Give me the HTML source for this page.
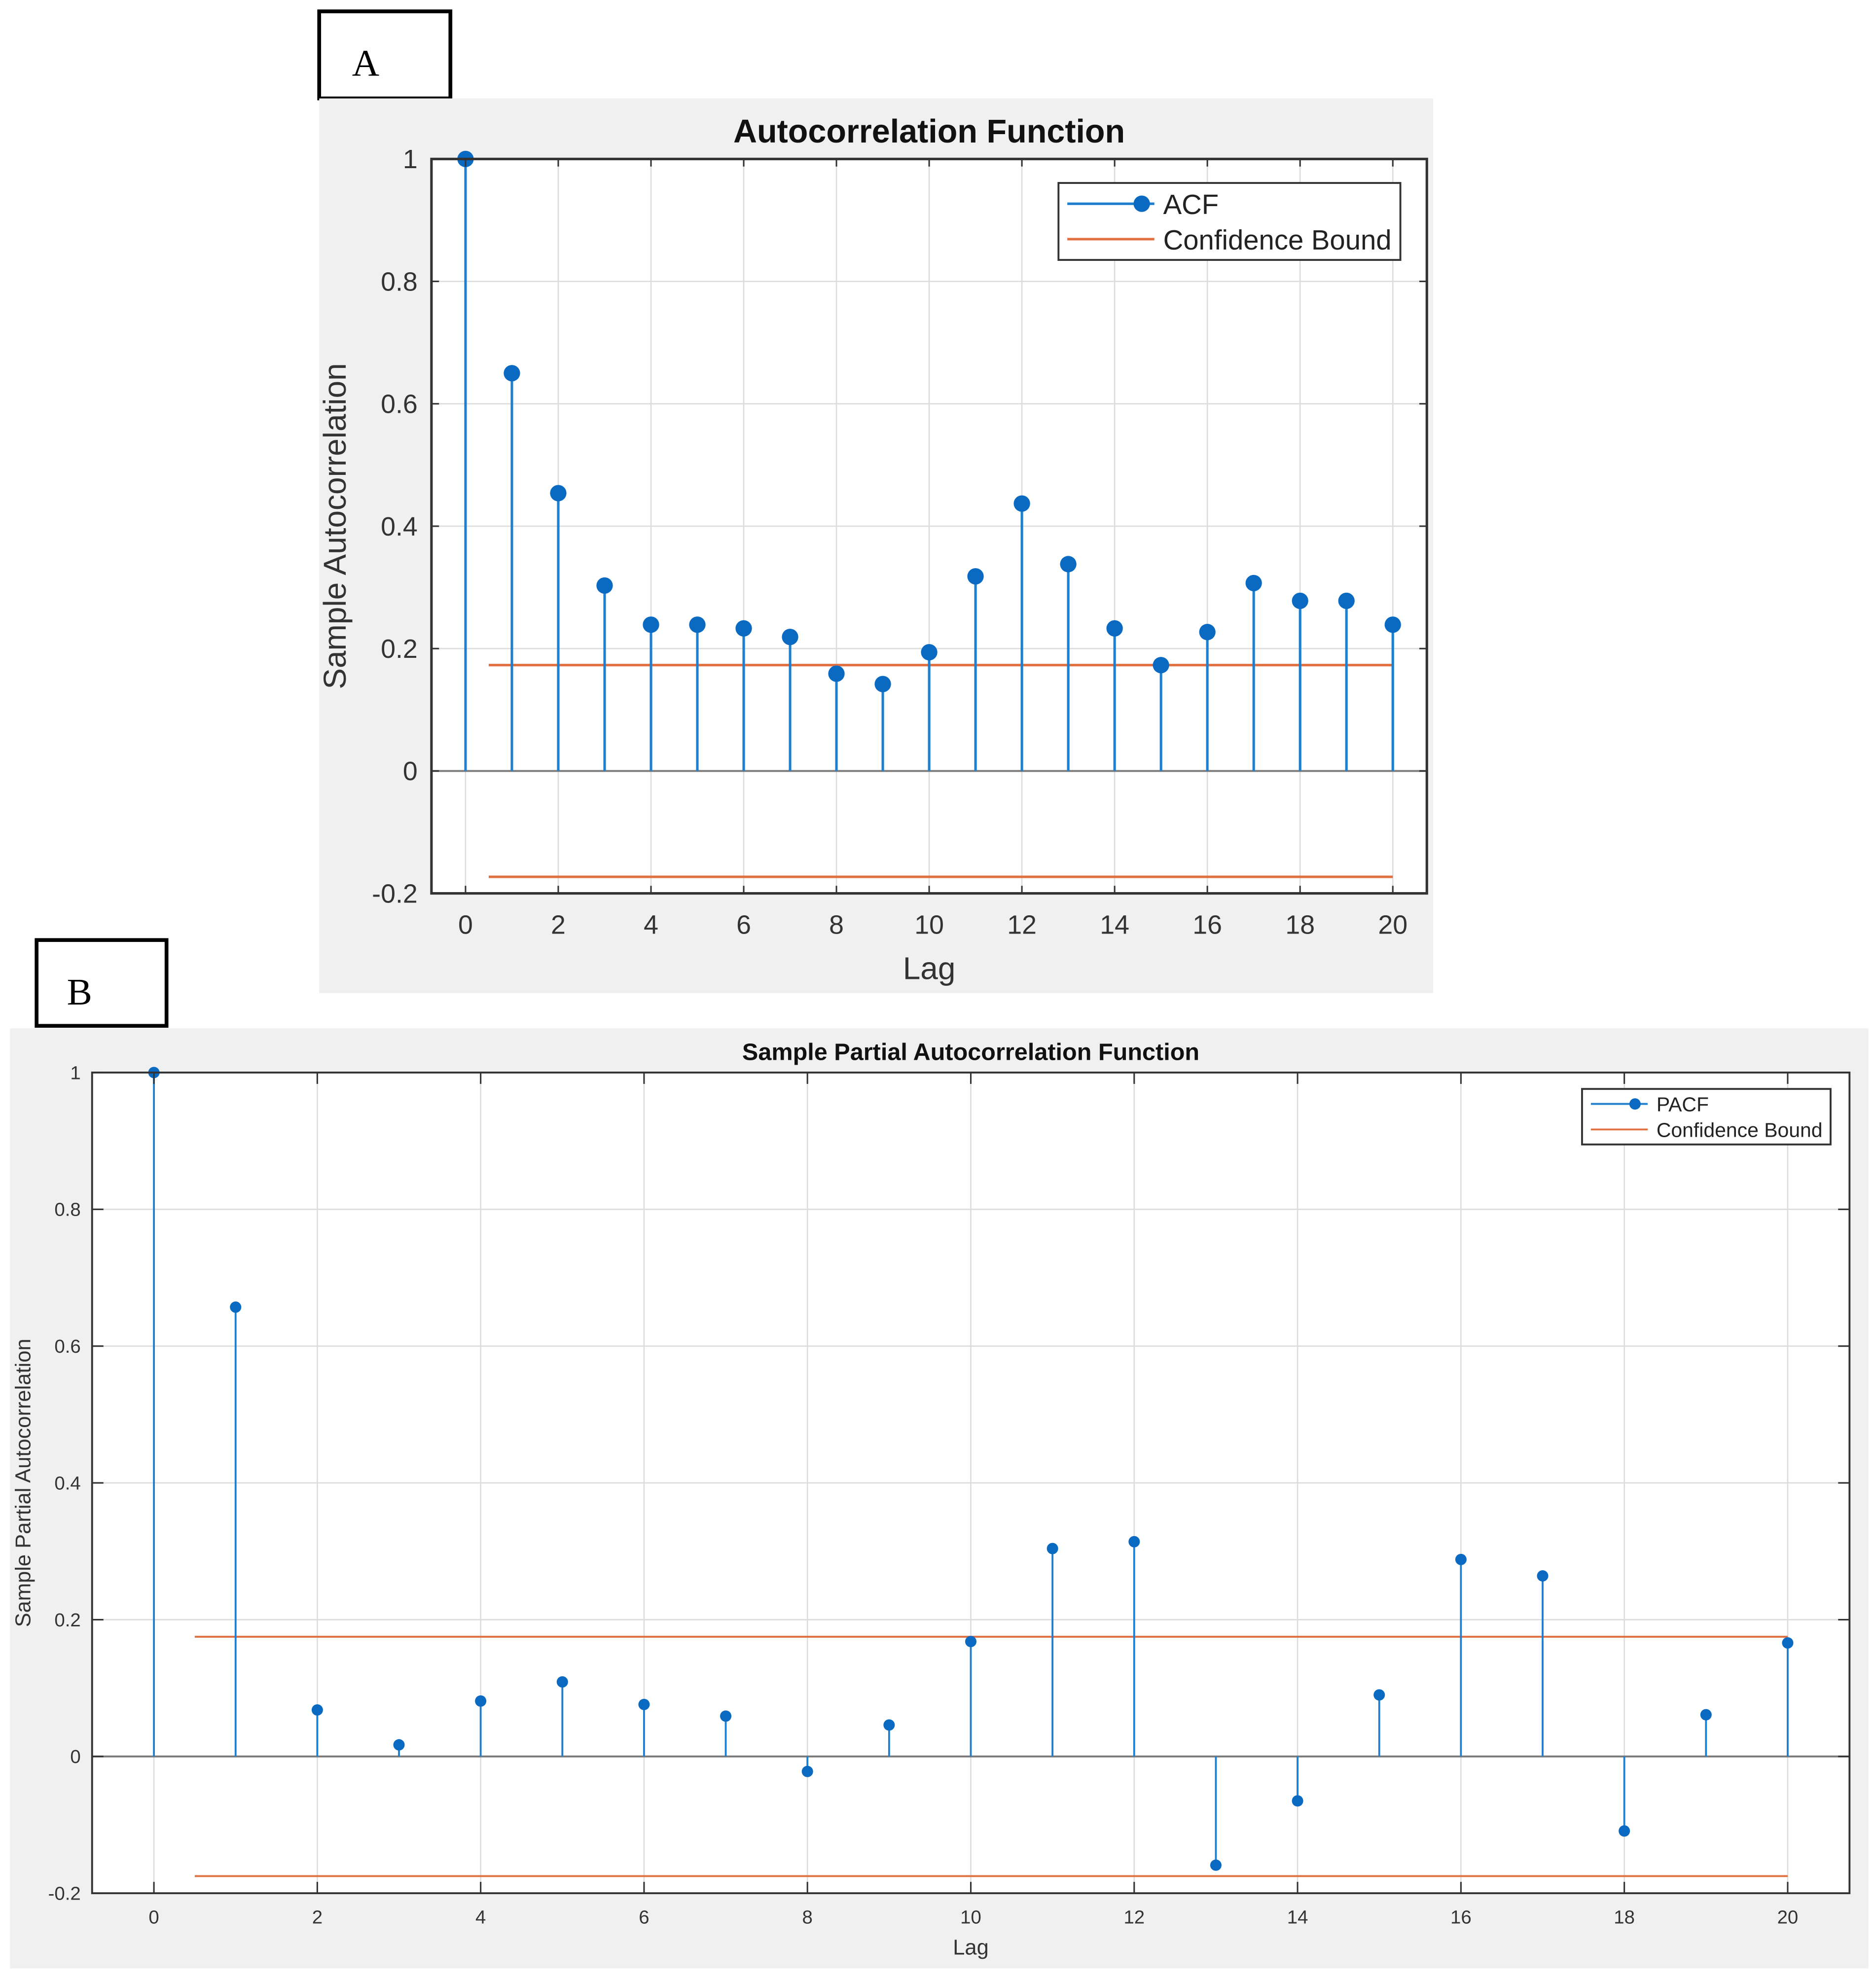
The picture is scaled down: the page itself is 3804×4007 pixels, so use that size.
<!DOCTYPE html>
<html><head><meta charset="utf-8"><style>
html,body{margin:0;padding:0;background:#fff;}
svg{display:block;}
text{font-family:"Liberation Sans",sans-serif;}
</style></head><body>
<svg id="root" width="3804" height="4007" viewBox="0 0 1487 1566" preserveAspectRatio="none" xmlns="http://www.w3.org/2000/svg">
<rect x="0" y="0" width="1487" height="1566" fill="#fff"/>
<g>
<rect x="253" y="9" width="104" height="69" fill="#fff" stroke="#000" stroke-width="3"/>
<text x="279" y="60" style="font-family:'Liberation Serif',serif" font-size="30">A</text>
</g>
<rect x="253" y="78" width="883" height="709" fill="#f0f0f0"/>
<g>
<rect x="29" y="745" width="103" height="68" fill="#fff" stroke="#000" stroke-width="3"/>
<text x="53" y="796" style="font-family:'Liberation Serif',serif" font-size="30">B</text>
</g>
<rect x="8" y="815" width="1473" height="745" fill="#f0f0f0"/>
<g id="chartA"></g>
<g id="chartB"></g>
</svg>
<script>
const lags = [0,1,2,3,4,5,6,7,8,9,10,11,12,13,14,15,16,17,18,19,20];
const acfValues = [1,0.65,0.454,0.303,0.239,0.239,0.233,0.219,0.159,0.142,0.194,0.318,0.437,0.338,0.233,0.173,0.227,0.307,0.278,0.278,0.239];
const acfBound = 0.173;
const pacfValues = [1,0.657,0.068,0.017,0.081,0.109,0.076,0.059,-0.022,0.046,0.168,0.304,0.314,-0.159,-0.065,0.09,0.288,0.264,-0.109,0.061,0.166];
const pacfBound = 0.175;
const xTicks = [0,2,4,6,8,10,12,14,16,18,20];
const yTicks = [-0.2,0,0.2,0.4,0.6,0.8,1];
const yTickLabels = ["-0.2","0","0.2","0.4","0.6","0.8","1"];

const NS = "http://www.w3.org/2000/svg";
function mk(parent, tag, attrs, txt){
  const e = document.createElementNS(NS, tag);
  for (const k in attrs) e.setAttribute(k, attrs[k]);
  if (txt !== undefined) e.textContent = txt;
  parent.appendChild(e);
  return e;
}

function drawChart(g, cfg, values, bound){
  const X = v => cfg.x0 + (v - 0) / 20 * (cfg.x20 - cfg.x0);
  const Y = v => cfg.yZero - v * (cfg.yZero - cfg.yOne);
  const L = cfg.left, R = cfg.right, T = Y(1), B = Y(-0.2);
  mk(g, 'rect', {x:L, y:T, width:R-L, height:B-T, fill:'#fff'});
  xTicks.forEach(t => {
    const l = mk(g, 'line', {x1:X(t), x2:X(t), y1:T, y2:B, stroke:'#dcdcdc', 'stroke-width':1});
    
    
  });
  yTicks.forEach(t => {
    const l = mk(g, 'line', {x1:L, x2:R, y1:Y(t), y2:Y(t), stroke:'#dcdcdc', 'stroke-width':1});
    
    
  });
  const z = mk(g, 'line', {x1:L, x2:R, y1:Y(0), y2:Y(0), stroke:'#7a7a7a', 'stroke-width':1.5});
  
  
  [bound, -bound].forEach(b => {
    const l = mk(g, 'line', {x1:X(0.5), x2:X(20), y1:Y(b), y2:Y(b), stroke:'#e07040', 'stroke-width':cfg.cbW});
    
    
  });
  lags.forEach((lag, i) => {
    const s = mk(g, 'line', {x1:X(lag), x2:X(lag), y1:Y(0), y2:Y(values[i]), stroke:'#1f7fcf', 'stroke-width':cfg.stemW});
    
    
    const c = mk(g, 'circle', {cx:X(lag), cy:Y(values[i]), r:cfg.dotR, fill:'#0a6ac2'});
    
    
  });
  mk(g, 'rect', {x:L, y:T, width:R-L, height:B-T, fill:'none', stroke:'#333', 'stroke-width':cfg.axW});
  const tl = cfg.tickLen;
  xTicks.forEach(t => {
    mk(g, 'line', {x1:X(t), x2:X(t), y1:B, y2:B-tl, stroke:'#333', 'stroke-width':1.2});
    mk(g, 'line', {x1:X(t), x2:X(t), y1:T, y2:T+tl, stroke:'#333', 'stroke-width':1.2});
    const tx = mk(g, 'text', {x:X(t), y:B + cfg.xLabOff, 'text-anchor':'middle', 'font-size':cfg.tickFs, fill:'#333'}, String(t));
    
    
  });
  yTicks.forEach((t, i) => {
    mk(g, 'line', {x1:L, x2:L+tl, y1:Y(t), y2:Y(t), stroke:'#333', 'stroke-width':1.2});
    mk(g, 'line', {x1:R, x2:R-tl, y1:Y(t), y2:Y(t), stroke:'#333', 'stroke-width':1.2});
    const tx = mk(g, 'text', {x:L - cfg.yLabOff, y:Y(t) + cfg.tickFs*0.35, 'text-anchor':'end', 'font-size':cfg.tickFs, fill:'#333'}, yTickLabels[i]);
    
    
  });
  const title = mk(g, 'text', {x:(L+R)/2, y:cfg.titleY, 'text-anchor':'middle', 'font-size':cfg.titleFs, 'font-weight':'bold', fill:'#111'}, cfg.title);
  
  
  const xl = mk(g, 'text', {x:(L+R)/2, y:cfg.xTitleY, 'text-anchor':'middle', 'font-size':cfg.labFs, fill:'#333'}, 'Lag');
  
  
  const yl = mk(g, 'text', {x:0, y:0, 'text-anchor':'middle', 'font-size':cfg.labFs, fill:'#333', transform:`translate(${cfg.yTitleX},${(T+B)/2}) rotate(-90)`}, cfg.yTitle);
  
  
  const lg = mk(g, 'g', {});
  
  
  const Lg = cfg.legend;
  mk(lg, 'rect', {x:Lg.x, y:Lg.y, width:Lg.w, height:Lg.h, fill:'#fff', stroke:'#333', 'stroke-width':1.5});
  const r1 = Lg.y + Lg.h*0.27, r2 = Lg.y + Lg.h*0.73;
  mk(lg, 'line', {x1:Lg.x+7, x2:Lg.x+Lg.lineW, y1:r1, y2:r1, stroke:'#1f7fcf', 'stroke-width':cfg.stemW});
  mk(lg, 'circle', {cx:Lg.x+Lg.lineW-10, cy:r1, r:cfg.dotR, fill:'#0a6ac2'});
  mk(lg, 'line', {x1:Lg.x+7, x2:Lg.x+Lg.lineW, y1:r2, y2:r2, stroke:'#e07040', 'stroke-width':cfg.cbW});
  const e1 = mk(lg, 'text', {x:Lg.x+Lg.lineW+7, y:r1+Lg.fs*0.37, 'font-size':Lg.fs, fill:'#222'}, cfg.series);
  
  
  const e2 = mk(lg, 'text', {x:Lg.x+Lg.lineW+7, y:r2+Lg.fs*0.37, 'font-size':Lg.fs, fill:'#222'}, 'Confidence Bound');
  
  
}

drawChart(document.getElementById('chartA'), {
  x0:369, x20:1104, yZero:611, yOne:126, left:342, right:1131,
  tickLen:6, tickFs:21, titleFs:26, labFs:25, titleY:113, xTitleY:776, yTitleX:274,
  xLabOff:32, yLabOff:11, title:'Autocorrelation Function', yTitle:'Sample Autocorrelation',
  stemW:2, cbW:2, dotR:6.5, axW:2, series:'ACF',
  legend:{x:839, y:145, w:271, h:61, lineW:76, fs:22}
}, acfValues, acfBound);

drawChart(document.getElementById('chartB'), {
  x0:122, x20:1417, yZero:1392, yOne:850, left:73, right:1466,
  tickLen:9, tickFs:15, titleFs:19, labFs:17, titleY:840, xTitleY:1549, yTitleX:24,
  xLabOff:24, yLabOff:9, title:'Sample Partial Autocorrelation Function', yTitle:'Sample Partial Autocorrelation',
  stemW:1.5, cbW:1.5, dotR:4.5, axW:1.5, series:'PACF',
  legend:{x:1254, y:863, w:197, h:44, lineW:52, fs:16}
}, pacfValues, pacfBound);
</script>
</body></html>
